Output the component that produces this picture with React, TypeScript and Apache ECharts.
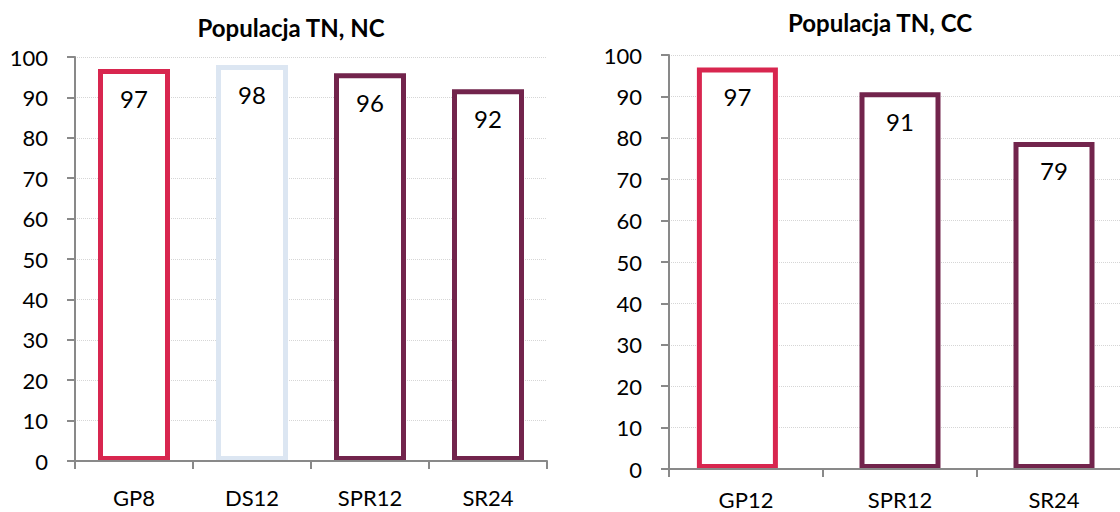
import React, { useEffect, useRef } from "react";
import * as echarts from "echarts";

// Left panel: TN population, NC
const ncCategories = ["GP8", "DS12", "SPR12", "SR24"];
const ncValues = [97, 98, 96, 92];

// Right panel: TN population, CC (GP12 sits slightly left of its slot)
const ccCategories = ["GP12", "SPR12", "SR24"];
const ccGpValues = [97, "-", "-"];
const ccOtherValues = ["-", 91, 79];

const yTicks = { min: 0, max: 100, interval: 10 };

const RED = "#D8264F";
const PURPLE = "#72244C";
const LIGHT_BLUE = "#DCE6F2";
const AXIS_GREY = "#898989";
const GRID_GREY = "#D6D6D6";
const FONT = "Lato, 'Noto Sans', sans-serif";

const colorFor = (name: string) =>
  name.startsWith("GP") ? RED : name.startsWith("DS") ? LIGHT_BLUE : PURPLE;

const valueLabel = {
  show: true,
  position: "insideTop",
  distance: 17,
  color: "#000",
  fontSize: 24,
  fontFamily: FONT,
};

const buildBars = (
  cats: string[],
  vals: (number | string)[],
  xIdx: number,
  yIdx: number,
  barWidth: number,
  extra: Record<string, unknown> = {}
) => ({
  type: "bar",
  xAxisIndex: xIdx,
  yAxisIndex: yIdx,
  barWidth,
  z: 2,
  data: vals.map((v, i) => ({
    value: v,
    itemStyle: {
      color: "#ffffff",
      borderColor: colorFor(cats[i]),
      borderWidth: 5,
    },
  })),
  label: valueLabel,
  ...extra,
});

const xAxisFor = (cats: string[], idx: number, margin: number) => ({
  type: "category",
  gridIndex: idx,
  data: cats,
  position: "bottom",
  z: 3,
  axisLine: { show: true, lineStyle: { color: AXIS_GREY, width: 2 } },
  axisTick: { show: true, length: 8, lineStyle: { color: AXIS_GREY, width: 2 } },
  axisLabel: { color: "#000", fontSize: 22, lineHeight: 22, fontFamily: FONT, margin },
});

const hiddenXAxisFor = (cats: string[], idx: number) => ({
  type: "category",
  gridIndex: idx,
  data: cats,
  position: "bottom",
  show: false,
});

const yAxisFor = (idx: number) => ({
  type: "value",
  gridIndex: idx,
  min: yTicks.min,
  max: yTicks.max,
  interval: yTicks.interval,
  axisLine: { show: true, lineStyle: { color: AXIS_GREY, width: 2 } },
  axisTick: { show: true, length: 8, lineStyle: { color: AXIS_GREY, width: 2 } },
  axisLabel: { color: "#000", fontSize: 22, fontFamily: FONT, margin: 27 },
  splitLine: { show: true, lineStyle: { color: GRID_GREY, type: "dotted", width: 1 } },
});

const titleText = (text: string, x: number, y: number) => ({
  type: "text",
  x,
  y,
  style: {
    text,
    fill: "#000",
    font: `bold 24px ${FONT}`,
    textAlign: "center",
    textVerticalAlign: "middle",
  },
});

export default function App() {
  const ref = useRef<HTMLDivElement>(null);

  useEffect(() => {
    if (!ref.current) return;
    const chart = echarts.init(ref.current, null, { renderer: "svg" });
    chart.setOption({
      animation: false,
      backgroundColor: "#ffffff",
      grid: [
        { left: 75, top: 57, width: 472, height: 404, containLabel: false },
        { left: 669, top: 55, width: 462, height: 414, containLabel: false },
      ],
      xAxis: [
        xAxisFor(ncCategories, 0, 25),
        xAxisFor(ccCategories, 1, 19),
        hiddenXAxisFor(ccCategories, 1),
      ],
      yAxis: [yAxisFor(0), yAxisFor(1)],
      series: [
        buildBars(ncCategories, ncValues, 0, 0, 72),
        // GP12 bar, followed by a zero-width spacer that nudges it left
        buildBars(ccCategories, ccGpValues, 1, 1, 81, { barGap: "20%" }),
        {
          type: "bar",
          xAxisIndex: 1,
          yAxisIndex: 1,
          barWidth: 0.01,
          data: ["-", "-", "-"],
          silent: true,
        },
        buildBars(ccCategories, ccOtherValues, 2, 1, 81),
      ],
      graphic: [
        titleText("Populacja TN, NC", 291, 27),
        titleText("Populacja TN, CC", 880, 22),
      ],
    });
    return () => chart.dispose();
  }, []);

  return (
    <div
      style={{
        position: "fixed",
        left: 0,
        top: 0,
        width: 1120,
        height: 512,
        overflow: "hidden",
        background: "#fff",
      }}
    >
      <div ref={ref} style={{ width: 1150, height: 512 }} />
    </div>
  );
}
